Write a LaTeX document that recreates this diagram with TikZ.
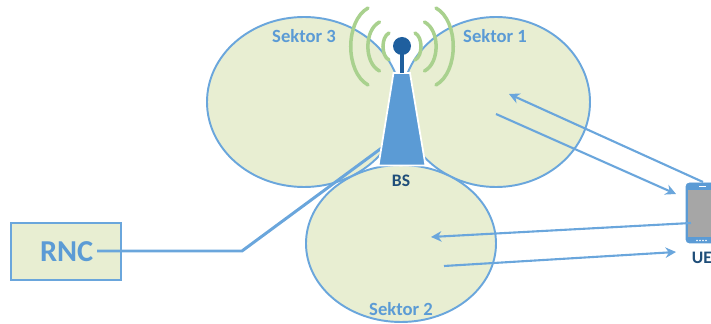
\documentclass[tikz,border=0pt]{standalone}
\usepackage{fontspec}
\usetikzlibrary{arrows.meta}
\setmainfont{Carlito}
\definecolor{linieblue}{HTML}{6AA6DC}
\definecolor{towerblue}{HTML}{5B9BD5}
\definecolor{darkblue}{HTML}{1F5F9E}
\definecolor{labelblue}{HTML}{1F4E79}
\definecolor{sektorfill}{HTML}{E8EED2}
\definecolor{wavegreen}{HTML}{A9D18E}
\tikzset{
  sektorlabel/.style={text=towerblue, font=\bfseries\fontsize{10.6pt}{11pt}\selectfont},
  blacklabel/.style={text=labelblue, font=\bfseries\fontsize{10pt}{11pt}\selectfont},
  sektor/.style={draw=linieblue, fill=sektorfill, line width=1.1pt},
  link/.style={->, draw=linieblue, line width=1.2pt},
  wave/.style={draw=wavegreen, line width=2pt, line cap=round}
}
\begin{document}
\begin{tikzpicture}[>={Stealth[length=6pt, width=6pt]}, x=0.02cm, y=-0.02cm]
  \useasboundingbox (0, 0) rectangle (711, 324);
  \clip (0, 0) rectangle (711, 324);

  % sectors
  \draw[sektor] (304, 102) ellipse (97 and 85);
  \draw[sektor] (496, 102) ellipse (94 and 85);
  \draw[sektor] (401, 243.5) ellipse (95 and 78.5);
  \node[sektorlabel] (sektor3) at (304, 36) {Sektor 3};
  \node[sektorlabel] (sektor1) at (495, 36) {Sektor 1};
  \node[sektorlabel] (sektor2) at (401, 309) {Sektor 2};

  % RNC box and line up to the tower
  \node[draw=linieblue, fill=sektorfill, line width=1.1pt, minimum width=2.2cm, minimum height=1.14cm,
    text=towerblue, font=\bfseries\fontsize{17.3pt}{18pt}\selectfont, inner sep=0pt,
    text width=2.2cm, align=left] (rnc) at (66, 251.5) {\hspace{0.58cm}RNC};
  \coordinate (rncend) at (97, 251);
  \coordinate (knee) at (242, 251);
  \coordinate (towerfoot) at (383, 147);
  \draw[draw=linieblue, line width=1.7pt] (rncend) -- (knee) -- (towerfoot);

  % tower
  \draw[white, fill=towerblue, line width=1pt] (393.5, 73) -- (410, 73) -- (425.5, 165.5) -- (378.5, 165.5) -- cycle;
  \draw[darkblue, line width=2.8pt] (402, 46) -- (402, 73);
  \fill[darkblue] (402, 46) circle (9);
  \foreach \d/\c/\ya/\yb/\ca/\cb in {13/21/33/60/37/56, 22.5/38/22/71/30/63, 34/57/8/85/21/72} {
    \draw[wave] (402-\d, \ya) .. controls (402-\c, \ca) and (402-\c, \cb) .. (402-\d, \yb);
    \draw[wave] (402+\d, \ya) .. controls (402+\c, \ca) and (402+\c, \cb) .. (402+\d, \yb);
  }
  \node[blacklabel] (bs) at (401, 181) {BS};

  % UE
  \draw[fill=towerblue, draw=towerblue, rounded corners=2pt] (686, 183) rectangle (730, 243);
  \fill[black!35] (688, 190) rectangle (730, 237);
  \draw[white, line width=0.5pt] (699, 186.5) -- (706, 186.5);
  \foreach \x in {697, 700, 703, 706} {
    \fill[white] (\x, 240.5) circle (0.8);
  }
  \node[blacklabel] (ue) at (702, 258) {UE};

  % radio links
  \coordinate (ul1a) at (703, 182);
  \coordinate (ul1b) at (509, 94);
  \coordinate (dl1a) at (496, 114);
  \coordinate (dl1b) at (676, 194);
  \coordinate (ul2a) at (691, 223);
  \coordinate (ul2b) at (431, 237);
  \coordinate (dl2a) at (444, 266);
  \coordinate (dl2b) at (676, 252);
  \draw[link] (ul1a) -- (ul1b);
  \draw[link] (dl1a) -- (dl1b);
  \draw[link] (ul2a) -- (ul2b);
  \draw[link] (dl2a) -- (dl2b);
\end{tikzpicture}
\end{document}
